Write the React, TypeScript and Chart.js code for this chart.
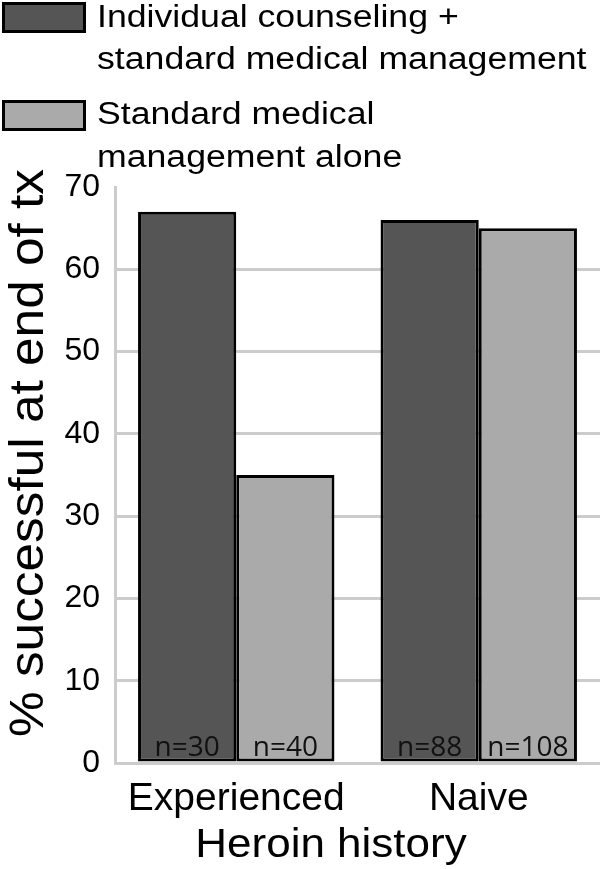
import React, { useEffect, useRef } from 'react';
import { Chart, registerables } from 'chart.js';

Chart.register(...registerables);

const categories = ['Experienced', 'Naive'];
const seriesNames = ['Individual counseling + standard medical management', 'Standard medical management alone'];
const legendLines = [
  ['Individual counseling +', 'standard medical management'],
  ['Standard medical', 'management alone'],
];
const counselingValues = [67, 66];
const standardValues = [35, 65];
const counselingN = [30, 88];
const standardN = [40, 108];
const yTicks = [0, 10, 20, 30, 40, 50, 60, 70];
const yTitle = '% successful at end of tx';
const xTitle = 'Heroin history';
const seriesColors = ['#555555', '#aaaaaa'];

const SANS = '"Liberation Sans", Arial, sans-serif';

const overlayPlugin = {
  id: 'overlay',
  afterDatasetsDraw(chart: any) {
    const ctx = chart.ctx;
    ctx.save();
    ctx.font = '28px "Open Sans"';
    ctx.fillStyle = '#111111';
    ctx.textAlign = 'center';
    ctx.textBaseline = 'alphabetic';
    const base = chart.scales.y.getPixelForValue(0);
    [counselingN, standardN].forEach((ns, di) => {
      chart.getDatasetMeta(di).data.forEach((el: any, i: number) => {
        ctx.fillText('n=' + ns[i], el.x, base - 7);
      });
    });
    ctx.restore();
  },
  afterDraw(chart: any) {
    const ctx = chart.ctx;
    // legend
    const boxTops = [2, 100];
    const baselines = [[27, 69], [124, 167]];
    legendLines.forEach((lines, i) => {
      const t = boxTops[i];
      ctx.save();
      ctx.fillStyle = seriesColors[i];
      ctx.fillRect(2, t, 84, 31);
      ctx.strokeStyle = '#000000';
      ctx.lineWidth = 3;
      ctx.strokeRect(3.5, t + 1.5, 81, 28);
      ctx.restore();
      lines.forEach((line, j) => {
        ctx.save();
        ctx.translate(97, baselines[i][j]);
        ctx.scale(1.15, 1);
        ctx.fillStyle = '#000000';
        ctx.font = '31px ' + SANS;
        ctx.textAlign = 'left';
        ctx.textBaseline = 'alphabetic';
        ctx.fillText(line, 0, 0);
        ctx.restore();
      });
    });
    // y title
    ctx.save();
    ctx.translate(43, 453);
    ctx.rotate(-Math.PI / 2);
    ctx.scale(1.07, 1);
    ctx.font = '48px ' + SANS;
    ctx.textAlign = 'center';
    ctx.textBaseline = 'alphabetic';
    ctx.fillStyle = '#000000';
    ctx.fillText(yTitle, 0, 0);
    ctx.restore();
    // x title
    ctx.save();
    ctx.translate(331, 857);
    ctx.scale(1.1, 1);
    ctx.font = '40px ' + SANS;
    ctx.textAlign = 'center';
    ctx.textBaseline = 'alphabetic';
    ctx.fillStyle = '#000000';
    ctx.fillText(xTitle, 0, 0);
    ctx.restore();
  },
};

export default function App() {
  const ref = useRef<HTMLCanvasElement | null>(null);
  useEffect(() => {
    if (!ref.current) return;
    const chart = new Chart(ref.current, {
      type: 'bar',
      data: {
        labels: categories,
        datasets: [
          {
            label: seriesNames[0],
            data: counselingValues,
            backgroundColor: seriesColors[0],
            borderColor: '#000000',
            borderWidth: 3,
            borderSkipped: false,
            categoryPercentage: 0.81,
            barPercentage: 1.0,
          },
          {
            label: seriesNames[1],
            data: standardValues,
            backgroundColor: seriesColors[1],
            borderColor: '#000000',
            borderWidth: 3,
            borderSkipped: false,
            categoryPercentage: 0.81,
            barPercentage: 1.0,
          },
        ],
      },
      options: {
        animation: false,
        responsive: false,
        layout: { padding: { top: 187, left: 0, right: 0, bottom: 0 } },
        plugins: { legend: { display: false }, tooltip: { enabled: false } },
        scales: {
          x: {
            grid: { display: false },
            border: { display: false },
            ticks: { color: '#000000', font: { family: SANS, size: 39 }, padding: 5 },
            title: { display: false, text: xTitle },
            afterFit: (s: any) => {
              s.height = 106;
            },
          },
          y: {
            min: 0,
            max: 70,
            afterBuildTicks: (s: any) => {
              s.ticks = yTicks.map((v) => ({ value: v }));
            },
            ticks: { color: '#000000', font: { family: SANS, size: 32 }, padding: 15 },
            grid: {
              color: (c: any) => (c.tick && c.tick.value === 70 ? 'rgba(0,0,0,0)' : '#cccccc'),
              lineWidth: 3,
              drawTicks: false,
            },
            border: { display: true, color: '#cccccc', width: 3 },
            title: { display: false, text: yTitle },
            afterFit: (s: any) => {
              s.width = 115;
            },
          },
        },
      } as any,
      plugins: [overlayPlugin],
    });
    return () => chart.destroy();
  }, []);
  return (
    <div style={{ position: 'absolute', left: 0, top: 0, width: 600, height: 869, background: '#ffffff' }}>
      <canvas ref={ref} width={600} height={869} style={{ display: 'block' }} />
    </div>
  );
}
